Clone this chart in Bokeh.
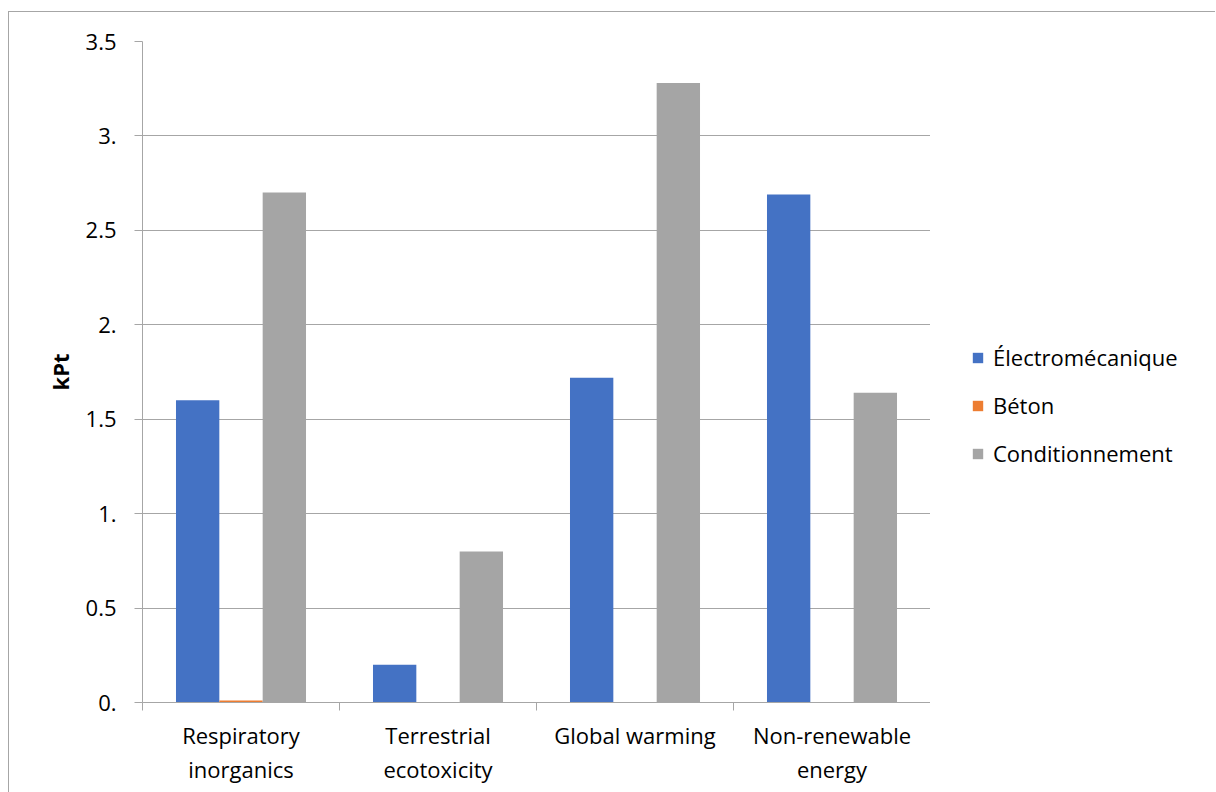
from bokeh.plotting import figure
from bokeh.layouts import row
from bokeh.models import (Range1d, LinearAxis, FixedTicker, CustomJSTickFormatter, Legend,
                          LegendItem, ColumnDataSource, SingleIntervalTicker)
from bokeh.transform import dodge
from bokeh.embed import file_html
from bokeh.resources import INLINE

# Impact categories and scores (kPt) per system component
categories = ["Respiratory\ninorganics", "Terrestrial\necotoxicity", "Global warming", "Non-renewable\nenergy"]
series_names = ["Électromécanique", "Béton", "Conditionnement"]
electromecanique = [1.60, 0.20, 1.72, 2.69]
beton = [0.01, 0.0, 0.0, 0.0]
conditionnement = [2.70, 0.80, 3.28, 1.64]
colors = ["#4472C4", "#ED7D31", "#A5A5A5"]
y_label = "kPt"

FONT = "Open Sans"
GRID = "#a6a6a6"
FS = "22px"

n = len(categories)
centers = [i + 0.5 for i in range(n)]
source = ColumnDataSource(dict(x=centers, e=electromecanique, b=beton, c=conditionnement))

p = figure(width=921, height=780, x_range=Range1d(0, n), y_range=Range1d(0, 3.5),
           output_backend="svg", toolbar_location=None, x_axis_location=None,
           min_border_left=133, min_border_right=0, min_border_top=29, min_border_bottom=90)
p.outline_line_color = None
p.xgrid.grid_line_color = None
p.ygrid.grid_line_color = GRID

for col, off, color in zip(["e", "b", "c"], [-0.22, 0.0, 0.22], colors):
    p.vbar(x=dodge("x", off), top=col, width=0.22, source=source,
           fill_color=color, line_color=None)

# y axis
yax = p.yaxis[0]
yax.ticker = SingleIntervalTicker(interval=0.5)
yax.formatter = CustomJSTickFormatter(code="""
    const v = Math.round(tick * 10) / 10;
    return Number.isInteger(v) ? v.toFixed(0) + "." : v.toFixed(1);
""")
yax.axis_line_color = GRID
yax.major_tick_line_color = GRID
yax.major_tick_out = 8
yax.major_tick_in = 0
yax.minor_tick_line_color = None
yax.major_label_standoff = 18
yax.major_label_text_font = FONT
yax.major_label_text_font_size = FS
yax.major_label_text_color = "#000000"
yax.axis_label = y_label
yax.axis_label_text_font = FONT
yax.axis_label_text_font_style = "bold"
yax.axis_label_text_font_size = FS
yax.axis_label_text_color = "#000000"
yax.axis_label_standoff = 8

# category axis: labels at group centres, short ticks at group boundaries
cax = LinearAxis(ticker=FixedTicker(ticks=centers, minor_ticks=list(range(n + 1))))
cax.major_label_overrides = {c: lab for c, lab in zip(centers, categories)}
cax.axis_line_color = GRID
cax.major_tick_line_color = None
cax.major_tick_out = 8
cax.major_tick_in = 0
cax.minor_tick_line_color = GRID
cax.minor_tick_line_width = 1
cax.minor_tick_out = 8
cax.minor_tick_in = 0
cax.major_label_standoff = 9
cax.major_label_text_font = FONT
cax.major_label_text_font_size = FS
cax.major_label_text_line_height = 1.15
cax.major_label_text_color = "#000000"
p.add_layout(cax, "below")

# legend panel to the right of the plot area
pl = figure(width=285, height=780, x_range=Range1d(0, 1), y_range=Range1d(0, 1),
            output_backend="svg", toolbar_location=None, x_axis_location=None, y_axis_location=None,
            min_border_left=0, min_border_right=0, min_border_top=0, min_border_bottom=0)
pl.outline_line_color = None
pl.grid.visible = False
# zero-height swatch renderers that only feed the legend
swatches = [pl.vbar(x=[0.5], top=[0.0], bottom=[0.0], width=0.0, fill_color=c, line_color=None)
            for c in colors]

legend = Legend(items=[LegendItem(label=s, renderers=[r]) for s, r in zip(series_names, swatches)],
                location=(41, 234))
legend.glyph_width = 13
legend.glyph_height = 13
legend.label_height = 24
legend.spacing = 18
legend.padding = 0
legend.margin = 0
legend.label_standoff = 9
legend.border_line_color = None
legend.background_fill_alpha = 0
legend.label_text_font = FONT
legend.label_text_font_size = FS
legend.label_text_color = "#000000"
pl.add_layout(legend, "center")

layout = row(p, pl)
layout.styles = {"margin-left": "8px", "margin-top": "11px",
                 "border-left": "1px solid #a6a6a6", "border-top": "1px solid #a6a6a6"}

open("out.html", "w").write(file_html(layout, INLINE))
